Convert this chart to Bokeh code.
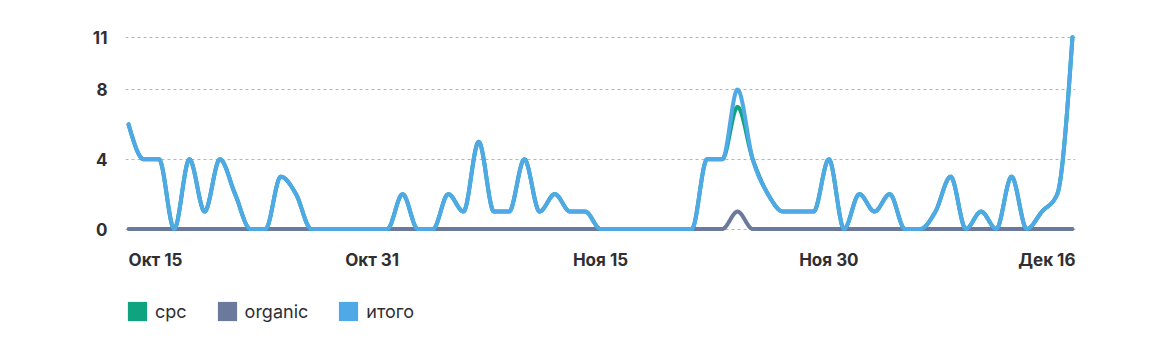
import numpy as np
from bokeh.plotting import figure
from bokeh.models import Range1d, FixedTicker, Label, Legend, LegendItem
from bokeh.embed import file_html
from bokeh.resources import INLINE

# ---- data (one value per day, Oct 15 .. Dec 16) ----
days = list(range(63))
itogo = [6, 4, 4, 0, 4, 1, 4, 2, 0, 0,
         3, 2, 0, 0, 0, 0, 0, 0, 2, 0,
         0, 2, 1, 5, 1, 1, 4, 1, 2, 1,
         1, 0, 0, 0, 0, 0, 0, 0, 4, 4,
         8, 4, 2, 1, 1, 1, 4, 0, 2, 1,
         2, 0, 0, 1, 3, 0, 1, 0, 3, 0,
         1, 2, 11]
organic = [0] * 40 + [1] + [0] * 22
cpc = [t - o for t, o in zip(itogo, organic)]

x_tick_days = [0, 16, 31, 46, 62]
x_tick_labels = ["Окт 15", "Окт 31", "Ноя 15", "Ноя 30", "Дек 16"]
y_ticks = [0, 4, 8, 11]

series_names = ["cpc", "organic", "итого"]
series_colors = ["#10a37f", "#6b7a9c", "#4fa9e6"]


# ---- monotone-x smoothing for drawing (like d3.curveMonotoneX) ----
def monotone_path(xs, ys, n=24):
    xs = np.asarray(xs, float)
    ys = np.asarray(ys, float)
    k = len(xs)
    h = np.diff(xs)
    s = np.diff(ys) / h
    t = np.zeros(k)
    for i in range(1, k - 1):
        s0, s1 = s[i - 1], s[i]
        p = (s0 * h[i] + s1 * h[i - 1]) / (h[i - 1] + h[i])
        t[i] = (np.sign(s0) + np.sign(s1)) * min(abs(s0), abs(s1), 0.5 * abs(p))
    t[0] = (3 * s[0] - t[1]) / 2
    t[-1] = (3 * s[-1] - t[-2]) / 2
    out_x, out_y = [], []
    u = np.linspace(0, 1, n, endpoint=False)
    for i in range(k - 1):
        dx = h[i] / 3
        p0 = (xs[i], ys[i])
        p1 = (xs[i] + dx, ys[i] + dx * t[i])
        p2 = (xs[i + 1] - dx, ys[i + 1] - dx * t[i + 1])
        p3 = (xs[i + 1], ys[i + 1])
        b0 = (1 - u) ** 3
        b1 = 3 * (1 - u) ** 2 * u
        b2 = 3 * (1 - u) * u ** 2
        b3 = u ** 3
        out_x.extend(b0 * p0[0] + b1 * p1[0] + b2 * p2[0] + b3 * p3[0])
        out_y.extend(b0 * p0[1] + b1 * p1[1] + b2 * p2[1] + b3 * p3[1])
    out_x.append(xs[-1])
    out_y.append(ys[-1])
    return out_x, out_y


FONT = "Inter"
TEXT = "#2f2f33"

# frame spans from y=32px down to the bottom of the page so that the
# date labels and legend below the data area stay inside it
p = figure(frame_width=950, frame_height=320,
           min_border_left=125, min_border_right=101,
           min_border_top=32, min_border_bottom=0,
           x_range=Range1d(-0.2, 62.2), y_range=Range1d(-7.083, 11.27),
           output_backend="svg", toolbar_location=None,
           background_fill_color="white", border_fill_color="white")
p.outline_line_color = None
p.xaxis.visible = False
p.xgrid.visible = False

p.yaxis.ticker = FixedTicker(ticks=y_ticks)
p.yaxis.axis_line_color = None
p.yaxis.major_tick_line_color = None
p.yaxis.minor_tick_line_color = None
p.yaxis.major_tick_out = 0
p.yaxis.major_tick_in = 0
p.yaxis.major_label_standoff = 18
p.yaxis.major_label_text_font = FONT
p.yaxis.major_label_text_font_size = "17px"
p.yaxis.major_label_text_font_style = "bold"
p.yaxis.major_label_text_color = TEXT

p.ygrid.ticker = FixedTicker(ticks=y_ticks)
p.ygrid.grid_line_color = "#b4b4b4"
p.ygrid.grid_line_dash = "3 3"
p.ygrid.grid_line_width = 1

# lines: organic (bottom), cpc, итого (top)
for vals, col in [(organic, series_colors[1]), (cpc, series_colors[0]), (itogo, series_colors[2])]:
    sx, sy = monotone_path(days, vals)
    p.line(x=sx, y=sy, line_width=4, line_color=col, line_join="round", line_cap="round")

# x tick labels (first left-aligned, last right-aligned, as in the reference)
for i, (d, lab) in enumerate(zip(x_tick_days, x_tick_labels)):
    align = "left" if i == 0 else ("right" if i == len(x_tick_days) - 1 else "center")
    xo = 3 if i == len(x_tick_days) - 1 else 0
    p.add_layout(Label(x=d, y=-1.75, x_units="data", y_units="data", text=lab,
                       x_offset=xo, text_align=align, text_baseline="middle",
                       text_font=FONT, text_font_size="17px", text_font_style="bold",
                       text_color=TEXT))

# legend with square swatches (zero-size quads serve only as legend keys)
items = []
for name, col in zip(series_names, series_colors):
    r = p.quad(left=[0], right=[0], top=[0], bottom=[0], fill_color=col, line_color=None)
    items.append(LegendItem(label=name, renderers=[r]))
legend = Legend(items=items, orientation="horizontal", location=(0, 29),
                glyph_width=24, glyph_height=24, label_standoff=6, spacing=28,
                padding=0, margin=0, border_line_color=None, background_fill_alpha=0,
                label_text_font=FONT, label_text_font_size="18px", label_text_color=TEXT,
                label_text_baseline="middle")
p.add_layout(legend, "center")

open("out.html", "w").write(file_html(p, INLINE))
